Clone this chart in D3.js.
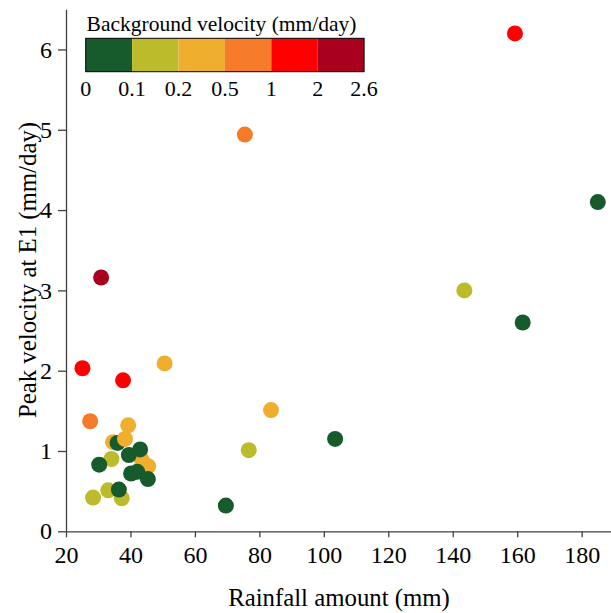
<!DOCTYPE html>
<html>
<head>
<meta charset="utf-8">
<script src="https://cdn.jsdelivr.net/npm/d3@7"></script>
<style>
  body { margin: 0; background: #fff; }
  svg { font-family: "Liberation Serif", "Times New Roman", serif; }
  .axis path, .axis line { stroke: #404040; stroke-width: 1.3; }
</style>
</head>
<body>
<div class="chart"></div>
<script>
var rainfall = [159.3, 185.0, 143.6, 161.7, 75.5, 30.9, 25.1, 37.7, 50.6, 27.5, 39.3, 34.6, 36.0, 38.3, 43.5, 43.0,
    39.5, 34.1, 30.3, 45.5, 40.2, 42.1, 45.4, 33.1, 37.3, 28.4, 36.4, 69.6, 76.7, 103.5, 83.6]
var peakVelocity = [6.20, 4.10, 3.00, 2.60, 4.94, 3.16, 2.03, 1.88, 2.09, 1.37, 1.32, 1.11, 1.10, 1.15, 0.89, 1.02,
    0.95, 0.90, 0.83, 0.81, 0.72, 0.74, 0.65, 0.51, 0.41, 0.42, 0.52, 0.32, 1.01, 1.15, 1.51]
var bgVelocity = [1.5, 0.05, 0.15, 0.05, 0.7, 2.3, 1.5, 1.5, 0.3, 0.7, 0.3, 0.3, 0.05, 0.3, 0.3, 0.05,
    0.05, 0.15, 0.05, 0.3, 0.05, 0.05, 0.05, 0.15, 0.15, 0.15, 0.05, 0.05, 0.15, 0.05, 0.3]

var xTicks = [20, 40, 60, 80, 100, 120, 140, 160, 180]
var yTicks = [0, 1, 2, 3, 4, 5, 6]
var bgBreaks = [0.1, 0.2, 0.5, 1, 2]
var bgLabels = ['0', '0.1', '0.2', '0.5', '1', '2', '2.6']
var bgColors = ['#175a2c', '#bbbb2b', '#f0ae2e', '#f57b2a', '#ff0000', '#a8001d']

var width = 611, height = 613
var margin = { left: 66, top: 9.3, bottom: 81.7 }
var serif = '"Liberation Serif", "Times New Roman", serif'

var x = d3.scaleLinear().domain([20, 190]).range([margin.left, margin.left + 170 * 3.223])
var y = d3.scaleLinear().domain([0, 6.5]).range([height - margin.bottom, margin.top])
var color = d3.scaleThreshold().domain(bgBreaks).range(bgColors)

var svg = d3.select('.chart')
    .append('svg')
    .attr('width', width)
    .attr('height', height)

function styleAxis(g) {
    g.attr('font-family', serif).attr('font-size', 24)
    g.selectAll('text').attr('fill', '#000')
}

svg.append('g')
    .attr('class', 'axis')
    .attr('transform', 'translate(0,' + y(0) + ')')
    .call(d3.axisBottom(x).tickValues(xTicks).tickSize(6).tickSizeOuter(0).tickPadding(9))
    .call(styleAxis)

svg.append('g')
    .attr('class', 'axis')
    .attr('transform', 'translate(' + x(20) + ',0)')
    .call(d3.axisLeft(y).tickValues(yTicks).tickFormat(d3.format('d')).tickSize(8).tickSizeOuter(0).tickPadding(6))
    .call(styleAxis)

var points = rainfall.map((r, i) => ({ r: r, v: peakVelocity[i], bg: bgVelocity[i] }))

svg.append('g')
    .selectAll('circle')
    .data(points)
    .enter()
    .append('circle')
    .attr('cx', d => x(d.r))
    .attr('cy', d => y(d.v))
    .attr('r', 8)
    .attr('fill', d => color(d.bg))

// axis titles
svg.append('text')
    .attr('x', 339)
    .attr('y', 606)
    .attr('text-anchor', 'middle')
    .style('font-size', '24.8px')
    .text('Rainfall amount (mm)')

svg.append('text')
    .attr('transform', 'translate(27,270) rotate(-90)')
    .attr('dy', '0.35em')
    .attr('text-anchor', 'middle')
    .style('font-size', '24.8px')
    .text('Peak velocity at E1 (mm/day)')

// colour legend
var legX = 85.7, legY = 38.3, segW = 46.4, segH = 33.4

var leg = svg.append('g')

leg.append('text')
    .attr('x', 221.5)
    .attr('y', 30.5)
    .attr('text-anchor', 'middle')
    .style('font-size', '21.5px')
    .text('Background velocity (mm/day)')

leg.selectAll('rect.seg')
    .data(bgColors)
    .enter()
    .append('rect')
    .attr('class', 'seg')
    .attr('x', (d, i) => legX + i * segW)
    .attr('y', legY)
    .attr('width', segW)
    .attr('height', segH)
    .attr('fill', d => d)

leg.append('rect')
    .attr('x', legX)
    .attr('y', legY)
    .attr('width', segW * 6)
    .attr('height', segH)
    .attr('fill', 'none')
    .attr('stroke', '#000')
    .attr('stroke-width', 1)

leg.selectAll('text.lab')
    .data(bgLabels)
    .enter()
    .append('text')
    .attr('class', 'lab')
    .attr('x', (d, i) => legX + i * segW)
    .attr('y', 96)
    .attr('text-anchor', 'middle')
    .style('font-size', '22px')
    .text(d => d)
</script>
</body>
</html>
